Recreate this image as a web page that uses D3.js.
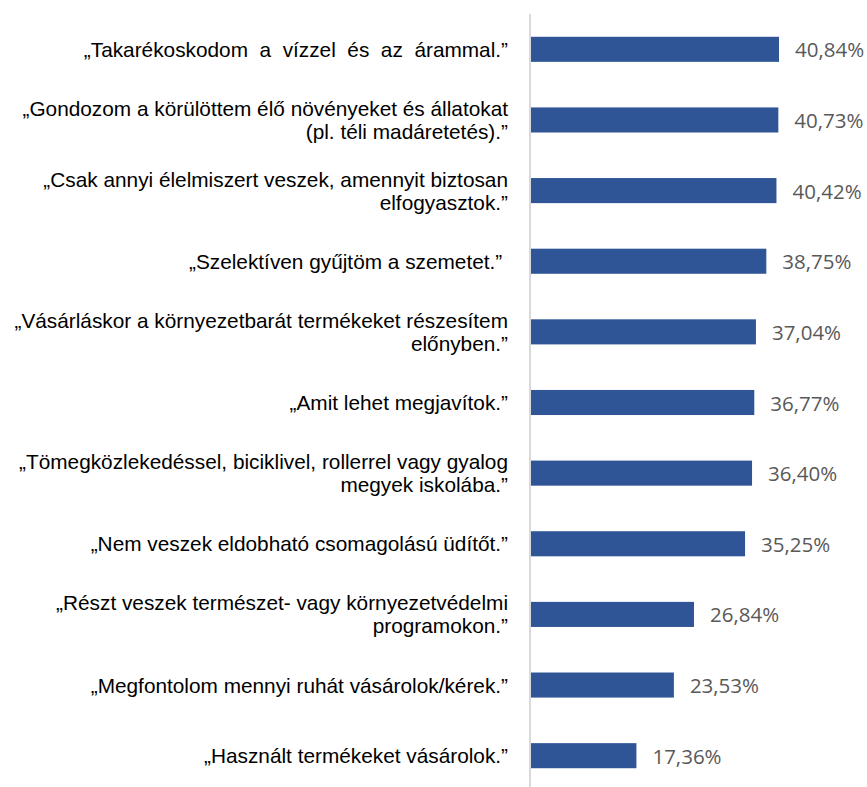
<!DOCTYPE html>
<html>
<head>
<meta charset="utf-8">
<script src="https://cdn.jsdelivr.net/npm/d3@7"></script>
<style>
    body { margin: 0; background: #fff; }
    svg { display: block; }
</style>
</head>
<body>
<svg id="chartSvg" width="867" height="787"></svg>
<script>
// kategóriák (sortörésekkel, ahogy az eredetin)
var categories = [
    ["„Takarékoskodom  a  vízzel  és  az  árammal.”"],
    ["„Gondozom a körülöttem élő növényeket és állatokat", "(pl. téli madáretetés).”"],
    ["„Csak annyi élelmiszert veszek, amennyit biztosan", "elfogyasztok.”"],
    ["„Szelektíven gyűjtöm a szemetet.” "],
    ["„Vásárláskor a környezetbarát termékeket részesítem", "előnyben.”"],
    ["„Amit lehet megjavítok.”"],
    ["„Tömegközlekedéssel, biciklivel, rollerrel vagy gyalog", "megyek iskolába.”"],
    ["„Nem veszek eldobható csomagolású üdítőt.”"],
    ["„Részt veszek természet- vagy környezetvédelmi", "programokon.”"],
    ["„Megfontolom mennyi ruhát vásárolok/kérek.”"],
    ["„Használt termékeket vásárolok.”"]
];
var values = [40.84, 40.73, 40.42, 38.75, 37.04, 36.77, 36.40, 35.25, 26.84, 23.53, 17.36];
var valueLabels = ["40,84%", "40,73%", "40,42%", "38,75%", "37,04%", "36,77%", "36,40%", "35,25%", "26,84%", "23,53%", "17,36%"];

var svg = d3.select("#chartSvg");
var axis_x = 531;

var yScale = d3.scaleBand().domain(d3.range(values.length)).range([14, 791]).paddingInner(0.645).paddingOuter(0.3225);
var xScale = d3.scaleLinear().domain([0, 40.84]).range([axis_x, 779]);

//bars
svg.append('g').selectAll('rect').data(values).enter()
    .append('rect')
    .attr('x', xScale(0))
    .attr('y', function (d, i) { return yScale(i); })
    .attr('width', function (d) { return xScale(d) - xScale(0); })
    .attr('height', yScale.bandwidth())
    .style('fill', '#2f5597');

//axis line
svg.append('line')
    .attr('x1', axis_x - 1).attr('x2', axis_x - 1)
    .attr('y1', 14).attr('y2', 787)
    .attr('stroke', '#d9d9d9')
    .attr('stroke-width', 2);

//value labels
svg.append('g').selectAll('text').data(values).enter()
    .append('text')
    .attr('x', function (d) { return xScale(d) + 16; })
    .attr('y', function (d, i) { return yScale(i) + yScale.bandwidth() / 2 + 8; })
    .text(function (d, i) { return valueLabels[i]; })
    .style('font-family', '"Open Sans", sans-serif')
    .style('font-size', '20.5px')
    .style('fill', '#595959');

//category labels
var lineH = 23;
var catG = svg.append('g').selectAll('text').data(categories).enter()
    .append('text')
    .attr('text-anchor', 'end')
    .style('font-family', '"Liberation Sans", Arial, sans-serif')
    .style('font-size', '20.8px')
    .style('fill', '#000');
catG.each(function (lines, i) {
    var cy = yScale(i) + yScale.bandwidth() / 2;
    var y0 = cy + 7.5 - (lines.length - 1) * lineH / 2;
    var t = d3.select(this);
    lines.forEach(function (ln, j) {
        t.append('tspan')
            .attr('x', 508)
            .attr('y', y0 + j * lineH)
            .attr('xml:space', 'preserve')
            .text(ln);
    });
});
</script>
</body>
</html>
